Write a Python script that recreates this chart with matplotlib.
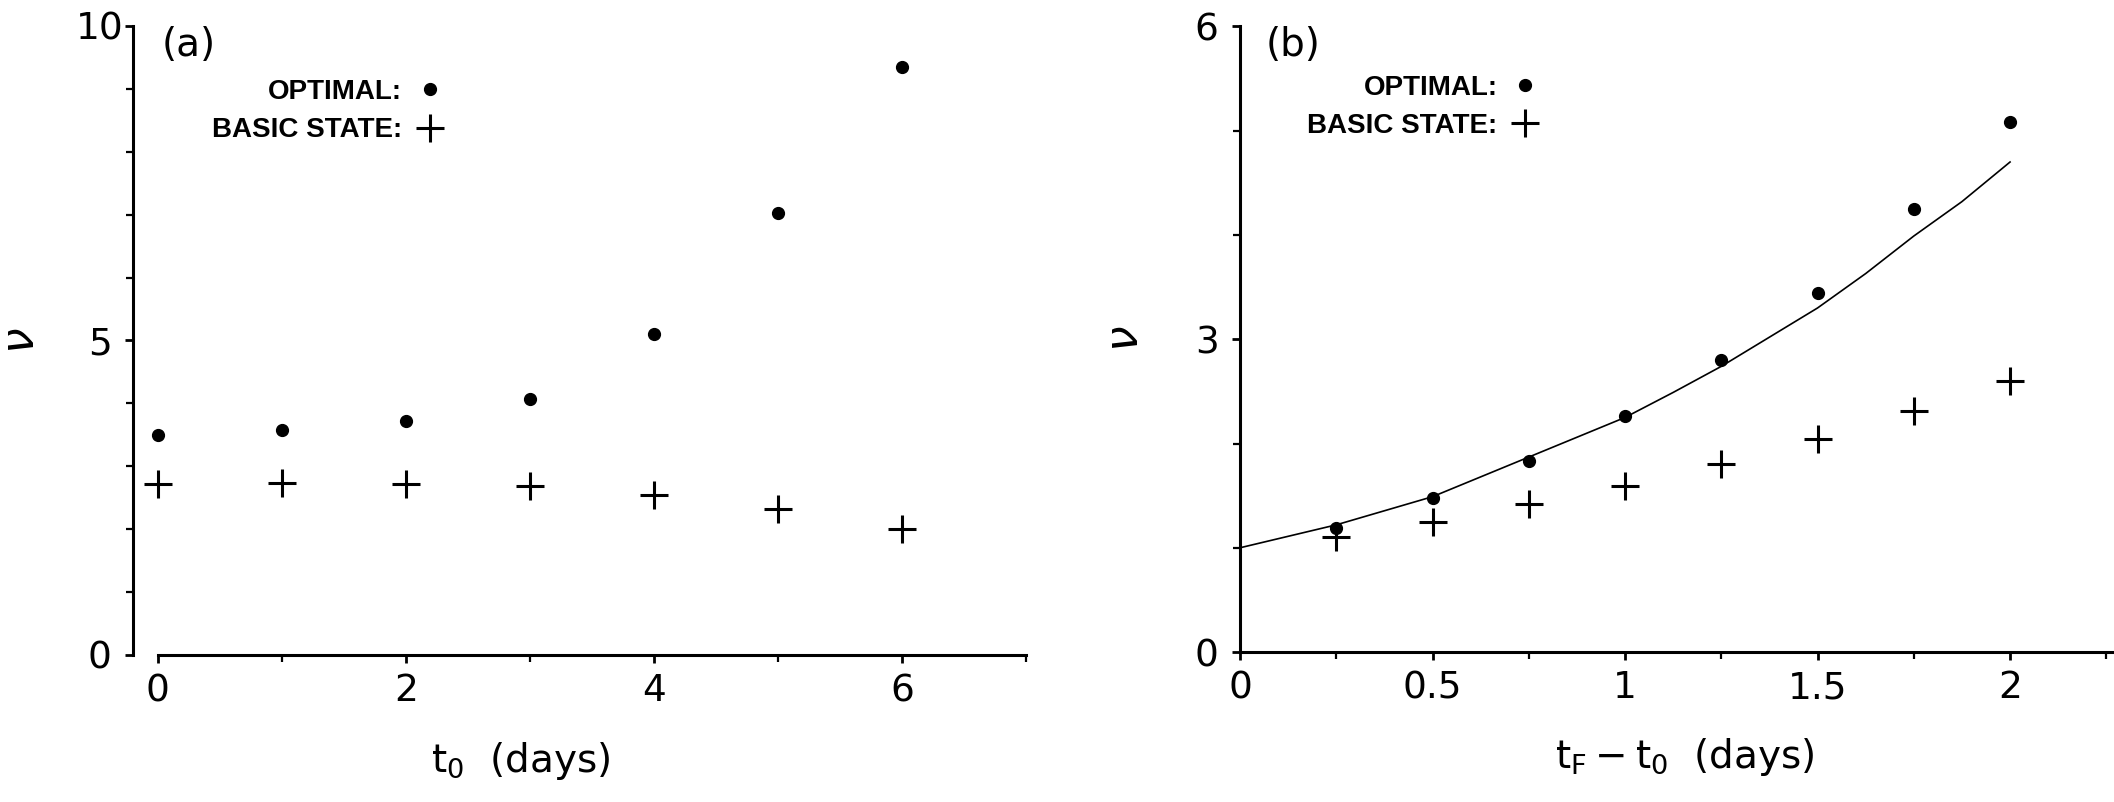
import matplotlib
matplotlib.use("Agg")
import matplotlib.pyplot as plt
from matplotlib.ticker import MultipleLocator

# Datos panel (a)
t0 = [0, 1, 2, 3, 4, 5, 6]
opt_a = [3.50, 3.57, 3.72, 4.07, 5.10, 7.03, 9.34]
basic_a = [2.72, 2.73, 2.72, 2.68, 2.54, 2.32, 2.01]

# Datos panel (b)
dt = [0.25, 0.5, 0.75, 1.0, 1.25, 1.5, 1.75, 2.0]
opt_b = [1.19, 1.48, 1.83, 2.26, 2.80, 3.44, 4.25, 5.08]
basic_b = [1.10, 1.25, 1.42, 1.59, 1.80, 2.04, 2.31, 2.60]

# Curva del panel (b)
curve_x = [0, 0.25, 0.5, 0.75, 1.0, 1.125, 1.25, 1.375, 1.5, 1.625, 1.75, 1.875, 2.0]
curve_y = [1.0, 1.22, 1.49, 1.87, 2.25, 2.49, 2.74, 3.02, 3.30, 3.63, 3.99, 4.32, 4.70]

leg_labels = ["OPTIMAL:", "BASIC STATE:"]

plt.rcParams['font.family'] = ['DejaVu Sans']
plt.rcParams['mathtext.fontset'] = 'dejavusans'

fig = plt.figure(figsize=(21.14, 8.02), dpi=100)
ax1 = fig.add_axes([0.0629, 0.1833, 0.4224, 0.7843])
ax2 = fig.add_axes([0.5866, 0.1870, 0.4134, 0.7800])

leg_font = {'family': 'Liberation Sans', 'weight': 'bold', 'size': 20}


def estilo(ax, xlim, ylim, xmaj, xmin, ymaj, ymin):
    ax.set_xlim(*xlim)
    ax.set_ylim(*ylim)
    for s in ['top', 'right']:
        ax.spines[s].set_visible(False)
    for s in ['left', 'bottom']:
        ax.spines[s].set_linewidth(2.2)
    ax.xaxis.set_major_locator(MultipleLocator(xmaj))
    ax.xaxis.set_minor_locator(MultipleLocator(xmin))
    ax.yaxis.set_major_locator(MultipleLocator(ymaj))
    ax.yaxis.set_minor_locator(MultipleLocator(ymin))
    ax.tick_params(axis='both', which='major', direction='out', length=6,
                   width=2, labelsize=27)
    ax.tick_params(axis='both', which='minor', direction='out', length=5,
                   width=1.6)
    ax.tick_params(axis='x', which='major', pad=7)
    ax.tick_params(axis='y', which='major', pad=18)
    for lab in ax.get_yticklabels():
        lab.set_horizontalalignment('center')


def puntos(ax, x, yo, yb):
    l1, = ax.plot(x, yo, linestyle='none', marker='o', markersize=8.5,
                  color='black')
    l2, = ax.plot(x, yb, linestyle='none', marker='+', markersize=20,
                  markeredgewidth=2.2, color='black')
    return [l1, l2]


# Panel (a)
estilo(ax1, (-0.2, 7), (0, 10), 2, 1, 5, 1)
ax1.spines['bottom'].set_bounds(0, 7)
h = puntos(ax1, t0, opt_a, basic_a)
ax1.set_xlabel(r'$\mathrm{t_0}$  (days)', fontsize=28)
ax1.xaxis.set_label_coords(0.434, -0.135)
ax1.set_ylabel(r'$\nu$', fontsize=33)
ax1.yaxis.set_label_coords(-0.1, 0.5)
ax1.text(0.032, 1.0, '(a)', transform=ax1.transAxes, fontsize=28,
         va='top', ha='left')
ax1.legend(h, leg_labels, markerfirst=False, frameon=False,
           loc='upper right', bbox_to_anchor=(0.345, 0.916),
           borderaxespad=0, borderpad=0, handlelength=0.8,
           handletextpad=0.6, labelspacing=0.45, prop=leg_font)

# Panel (b)
estilo(ax2, (0, 2.27), (0, 6), 0.5, 0.25, 3, 1)
ax2.plot(curve_x, curve_y, color='black', linewidth=1.2)
h = puntos(ax2, dt, opt_b, basic_b)
ax2.set_xticks([0, 0.5, 1, 1.5, 2], ['0', '0.5', '1', '1.5', '2'])
ax2.set_xlabel(r'$\mathrm{t_F - t_0}$  (days)', fontsize=28)
ax2.xaxis.set_label_coords(0.509, -0.135)
ax2.set_ylabel(r'$\nu$', fontsize=33)
ax2.yaxis.set_label_coords(-0.105, 0.5)
ax2.text(0.029, 1.0, '(b)', transform=ax2.transAxes, fontsize=28,
         va='top', ha='left')
ax2.legend(h, leg_labels, markerfirst=False, frameon=False,
           loc='upper right', bbox_to_anchor=(0.339, 0.923),
           borderaxespad=0, borderpad=0, handlelength=0.8,
           handletextpad=0.6, labelspacing=0.45, prop=leg_font)

fig.savefig("out.png", dpi=100)
